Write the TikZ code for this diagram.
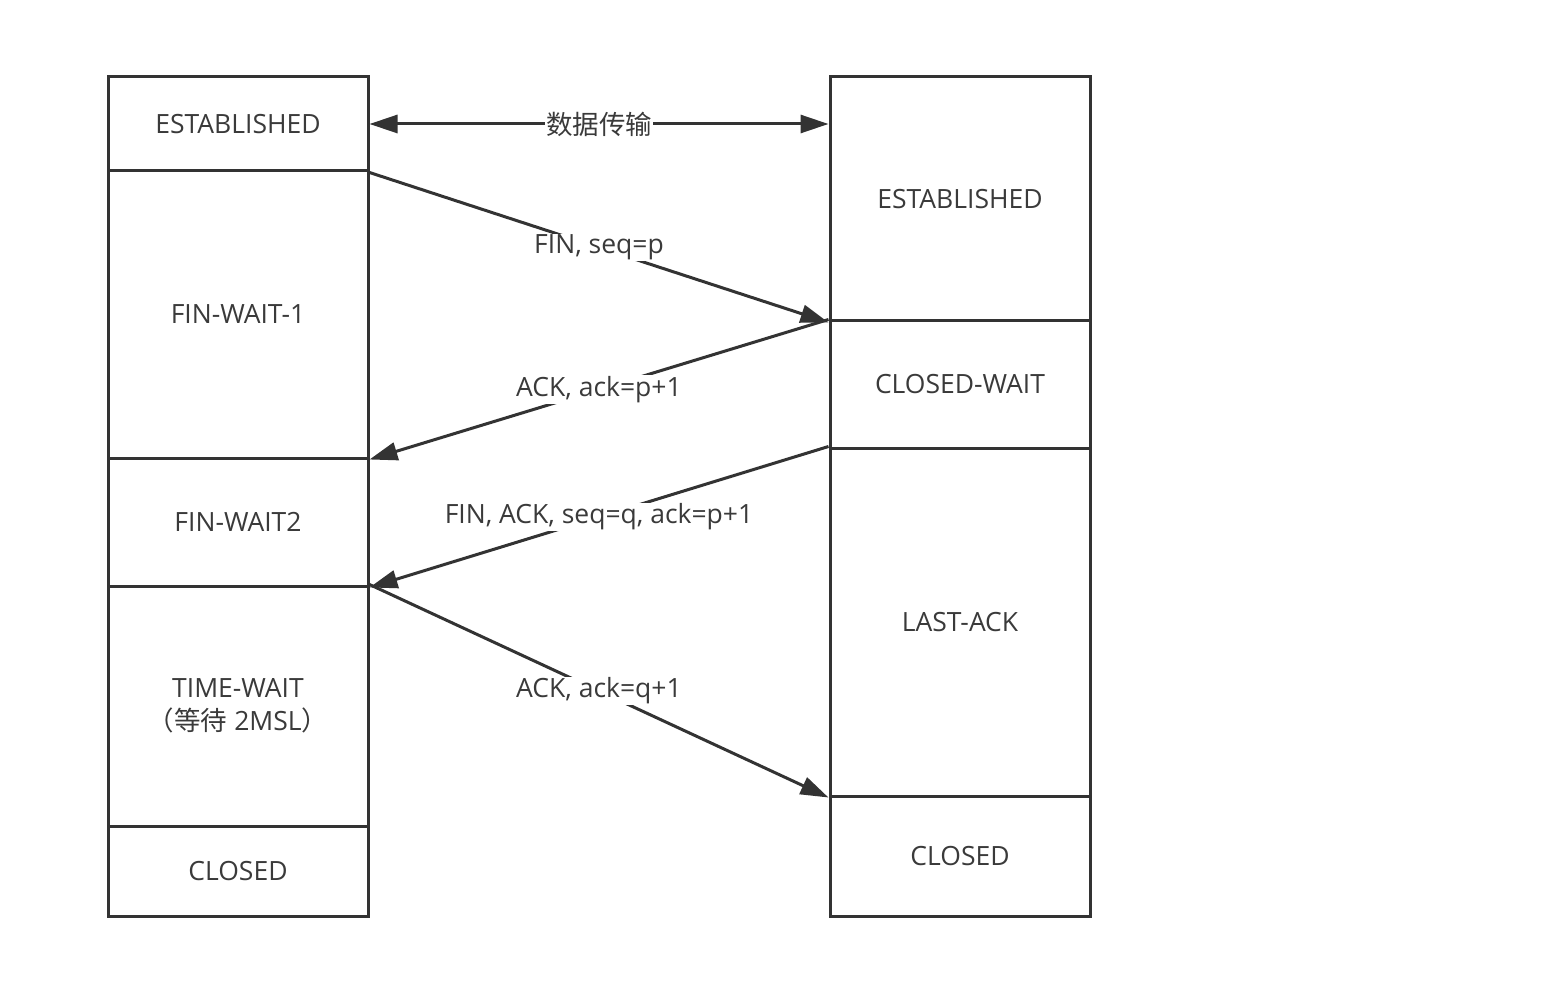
\documentclass[tikz,border=0pt]{standalone}
\usepackage{fontspec}
\setmainfont{Open Sans}
\newfontfamily\cjk{Noto Sans CJK SC}
\usetikzlibrary{arrows.meta}
\definecolor{ink}{HTML}{333333}
\definecolor{txt}{HTML}{3A3A3A}
\tikzset{
  statebox/.style={draw=ink, line width=3pt, rectangle, inner sep=0pt, minimum width=260pt, text=txt, font=\fontsize{26.5}{33}\selectfont, align=center},
  msg/.style={draw=ink, line width=3pt, -{Triangle[length=28pt,width=18pt]}},
  lbl/.style={fill=white, inner sep=1pt, text=txt, font=\fontsize{26.5}{32}\selectfont}
}
\begin{document}
\begin{tikzpicture}[x=1pt,y=-1pt]
\useasboundingbox (0,0) rectangle (1564,984);
% left column
\node[statebox, minimum height=94pt]  (L1) at (238,124) {ESTABLISHED};
\node[statebox, minimum height=287pt] (L2) at (238,314.5) {FIN-WAIT-1};
\node[statebox, minimum height=128pt] (L3) at (238,522) {FIN-WAIT2};
\node[statebox, minimum height=240pt] (L4) at (238,706) {TIME-WAIT\\{\cjk （等待} 2MSL{\cjk ）}};
\node[statebox, minimum height=90pt]  (L5) at (238,871) {CLOSED};
% right column
\node[statebox, minimum height=244pt] (R1) at (960,199) {ESTABLISHED};
\node[statebox, minimum height=127pt] (R2) at (960,384.5) {CLOSED-WAIT};
\node[statebox, minimum height=348pt] (R3) at (960,622) {LAST-ACK};
\node[statebox, minimum height=120pt] (R4) at (960,856) {CLOSED};
% messages
\draw[msg, {Triangle[length=28pt,width=18pt]}-{Triangle[length=28pt,width=18pt]}] (L1.east) -- node[lbl]{\cjk 数据传输} (L1.east -| R1.west);
\draw[msg] (L1.south east) -- node[lbl]{FIN, seq=p} (R1.south west);
\draw[msg] (R2.north west) -- node[lbl]{ACK, ack=p+1} (L2.south east);
\draw[msg] (R3.north west) -- node[lbl]{FIN, ACK, seq=q, ack=p+1} (L3.south east);
\draw[msg] (L4.north east) -- node[lbl]{ACK, ack=q+1} (R3.south west);
\end{tikzpicture}
\end{document}
